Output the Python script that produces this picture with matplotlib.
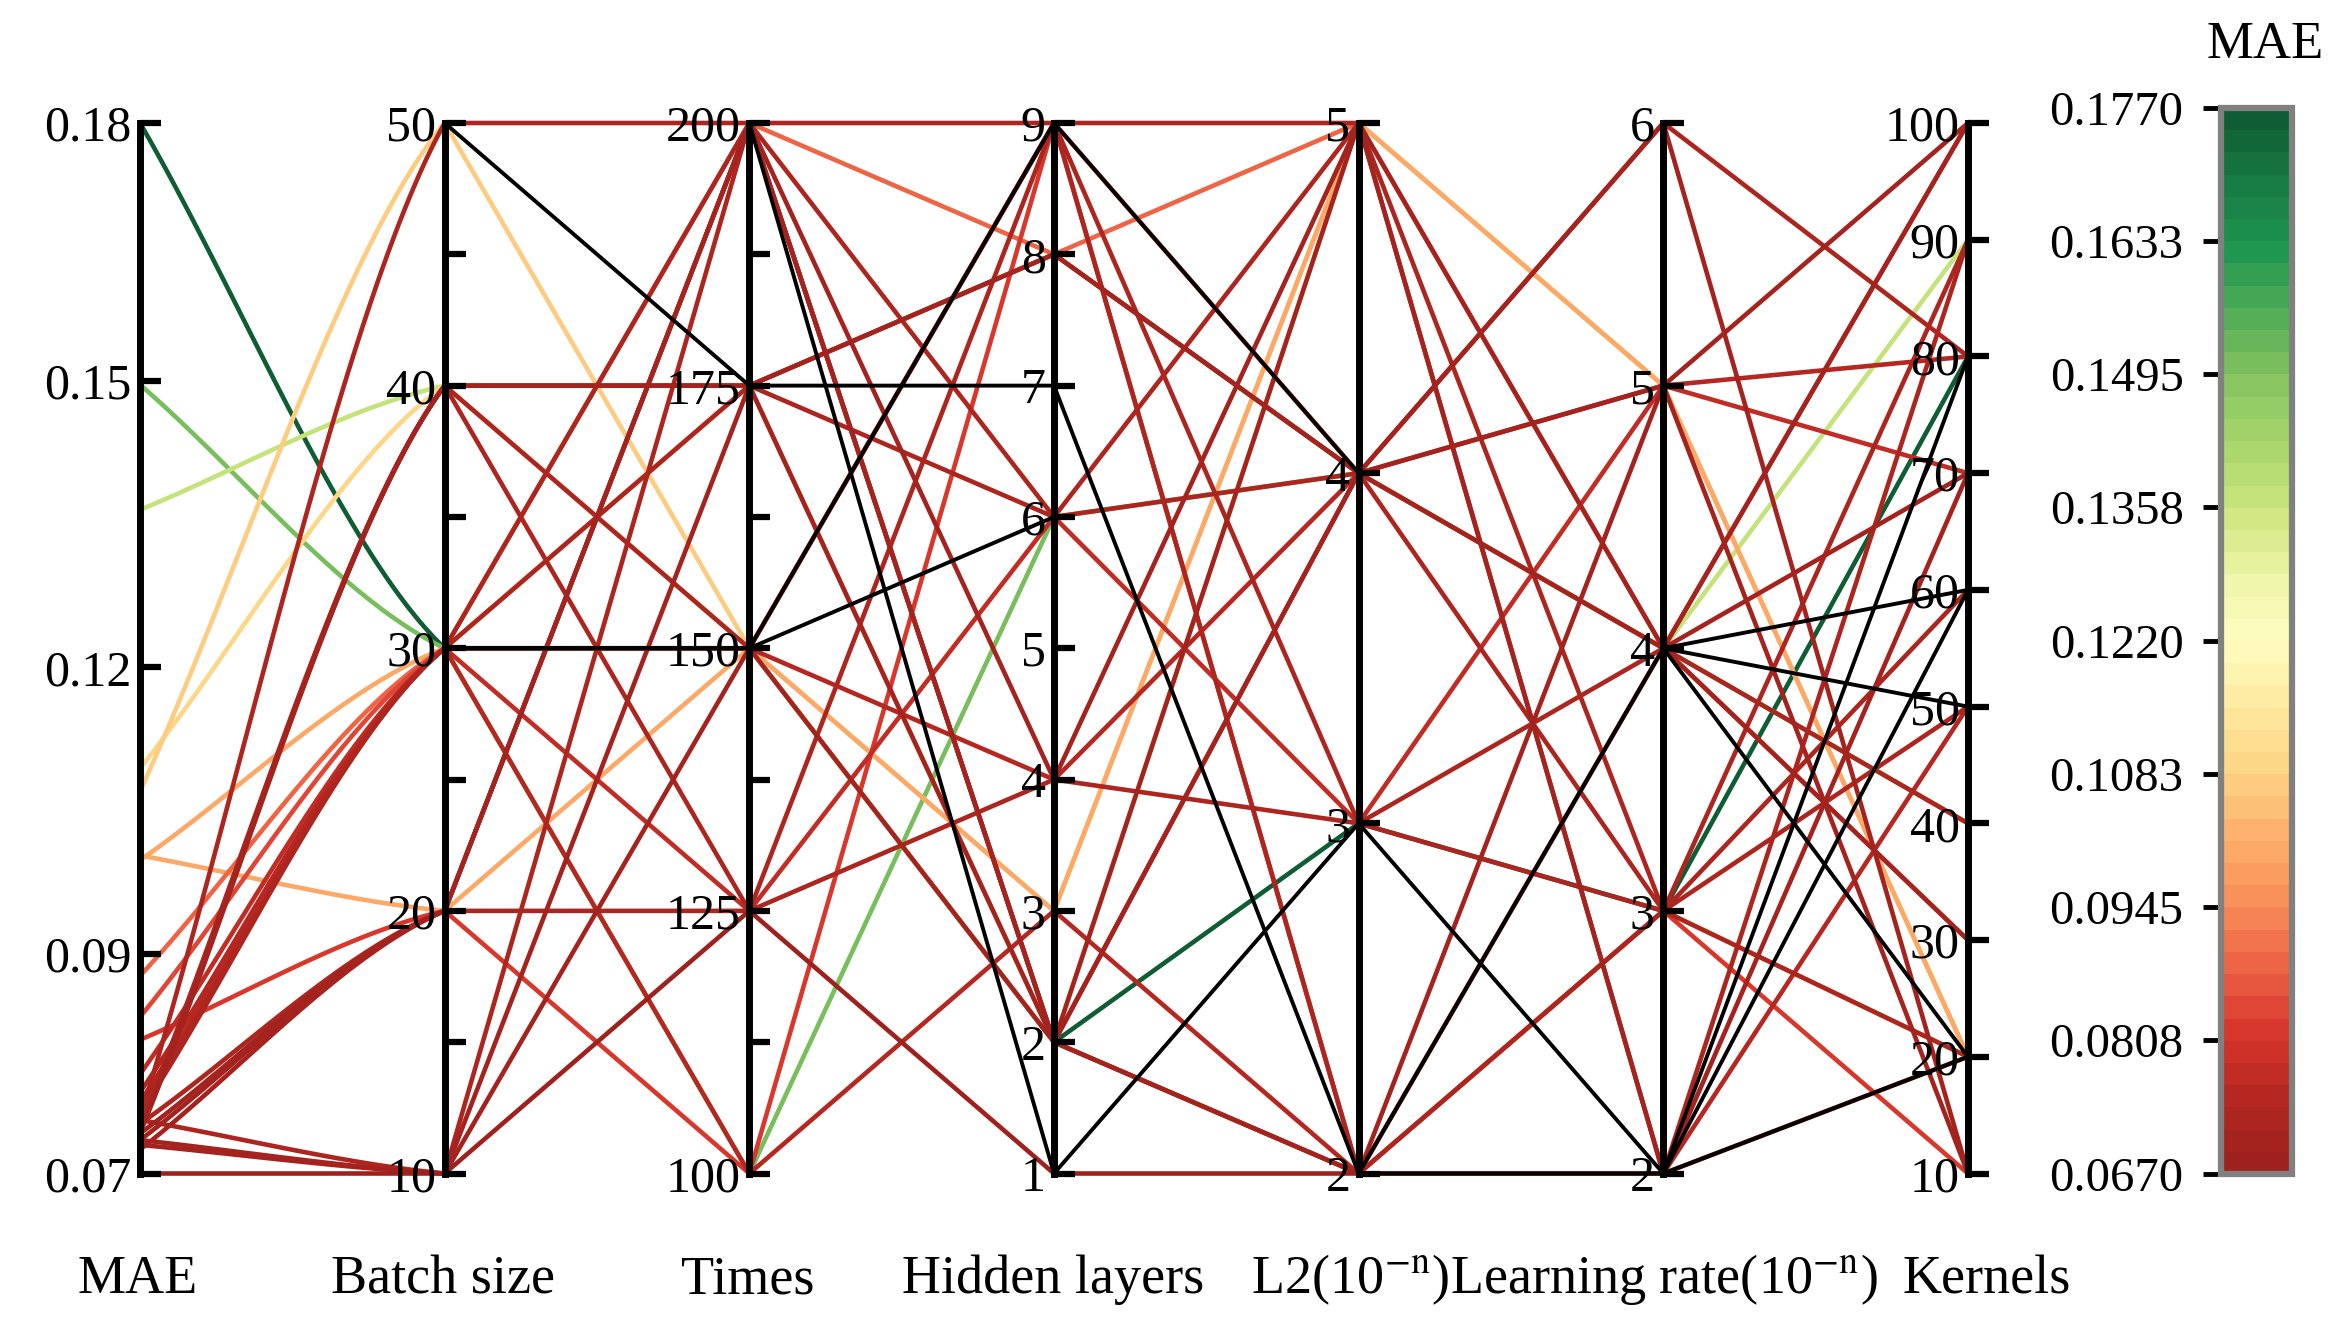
import numpy as np
import matplotlib
matplotlib.use("Agg")
import matplotlib.pyplot as plt
from matplotlib.colors import LinearSegmentedColormap, Normalize
from matplotlib.cm import ScalarMappable
from matplotlib.ticker import FixedLocator, FixedFormatter

plt.rcParams['font.family'] = ['Liberation Serif', 'DejaVu Serif']
plt.rcParams['mathtext.fontset'] = 'stix'

nan = np.nan

# ---------------- data (one entry per trial; nan = not recorded) ----------------
mae = [0.177, 0.1496, 0.1365, 0.1094, 0.107, 0.1003, 0.0998, 0.0877, 0.0834, 0.081,
       0.0728, 0.0712, 0.0718, 0.0722, 0.0774, 0.0755, 0.0745, 0.0705, 0.0712, 0.0737,
       0.0722, 0.0726, 0.0705, 0.067, 0.0700, 0.0695, 0.0733, 0.0715,
       nan, nan, nan, nan, nan, nan, nan, nan, nan, nan]
batch = [30, 30, 40, 40, 50, 20, 30, 30, 30, 20,
         50, 40, 40, 40, 30, 30, 30, 20, 20, 30,
         20, 10, 10, 10, 10, 20, 30, 40,
         50, 30, 30, nan, nan, nan, nan, nan, nan, nan]
times = [150, 100, 175, 150, 150, 150, 175, 200, 150, 100,
         200, 175, 150, 125, 125, 100, 150, 200, 200, 175,
         125, 200, 175, 125, 150, 200, 200, 175,
         175, 150, 150, 200, nan, nan, nan, nan, nan, nan]
hidden = [2, 6, 8, 2, 3, 3, 2, 8, 9, 9,
          9, 8, 9, 9, 6, 3, 4, 4, 2, 6,
          4, 2, 2, 1, 2, 2, 6, 8,
          7, 9, 6, 1, 1, nan, nan, nan, nan, nan]
l2 = [3, 4, 4, 5, 5, 5, 2, 5, 4, 2,
      5, 4, 3, 2, 3, 2, 4, 5, 5, 5,
      3, 4, 2, 2, 4, 2, 4, 4,
      2, 4, nan, nan, 3, 2, 2, nan, nan, nan]
lr = [3, 4, 4, 5, 5, 5, 3, 4, 4, 3,
      2, 4, 3, 3, 5, 2, 5, 4, 2, 3,
      4, 3, 4, 2, 6, 5, 6, 5,
      nan, nan, nan, nan, 2, 4, 2, 4, 4, 2]
kernels = [80, 40, 90, 20, 20, 20, 20, 30, 100, 10,
           90, 100, 50, 20, 70, 50, 80, 30, 70, 90,
           40, 60, 70, 20, 10, 100, 80, 10,
           nan, nan, nan, nan, 80, 60, 20, 50, 20, 60]

dim_names = ["MAE", "Batch size", "Times", "Hidden layers",
             r"L2(10$^{-\mathrm{n}}$)", r"Learning rate(10$^{-\mathrm{n}}$)", "Kernels"]
dim_lo = [0.067, 10, 100, 1, 2, 2, 10]
dim_hi = [0.177, 50, 200, 9, 5, 6, 100]
major_ticks = [[0.067, 0.09, 0.12, 0.15, 0.177],
               [10, 20, 30, 40, 50],
               [100, 125, 150, 175, 200],
               [1, 2, 3, 4, 5, 6, 7, 8, 9],
               [2, 3, 4, 5],
               [2, 3, 4, 5, 6],
               [10, 20, 30, 40, 50, 60, 70, 80, 90, 100]]
major_labels = [["0.07", "0.09", "0.12", "0.15", "0.18"],
                ["10", "20", "30", "40", "50"],
                ["100", "125", "150", "175", "200"],
                [str(v) for v in range(1, 10)],
                ["2", "3", "4", "5"],
                ["2", "3", "4", "5", "6"],
                [str(v) for v in range(10, 101, 10)]]
minor_ticks = [[], [15, 25, 35, 45], [112.5, 137.5, 162.5, 187.5], [], [], [], []]

cb_ticks = [0.0670, 0.0808, 0.0945, 0.1083, 0.1220, 0.1358, 0.1495, 0.1633, 0.1770]
cb_labels = ["0.0670", "0.0808", "0.0945", "0.1083", "0.1220", "0.1358", "0.1495", "0.1633", "0.1770"]

# ---------------- colormap ----------------
cm_nodes = [(0.000, '#9e211e'), (0.060, '#b3261f'), (0.125, '#d7352b'), (0.190, '#ee6446'),
            (0.250, '#f98e58'), (0.310, '#fdae6b'), (0.375, '#fdd485'), (0.440, '#feeaa0'),
            (0.500, '#fffec0'), (0.560, '#eef5a8'), (0.625, '#cde67f'), (0.690, '#a6d56c'),
            (0.750, '#86c45f'), (0.810, '#54ae57'), (0.875, '#1e9650'), (0.940, '#177a42'),
            (1.000, '#0f5d34')]
cmap = LinearSegmentedColormap.from_list('mae', cm_nodes, N=48)
cnorm = Normalize(vmin=cb_ticks[0], vmax=cb_ticks[-1])

# ---------------- figure ----------------
W, H = 2346, 1342
fig = plt.figure(figsize=(W / 100, H / 100), dpi=100)
x_left, x_right, y_top, y_bot = 140, 1968, 123, 1173.5
L, R = x_left / W, x_right / W
B, T = 1 - y_bot / H, 1 - y_top / H
ax = fig.add_axes([L, B, R - L, T - B])
ax.set_xlim(0, 6)
ax.set_ylim(0, 1)
ax.axis('off')

cols = [mae, batch, times, hidden, l2, lr, kernels]
data = np.array(cols, dtype=float).T
lo = np.array(dim_lo)
hi = np.array(dim_hi)
ndata = (data - lo) / (hi - lo)

tt = np.linspace(0, 1, 60)


def segment(x0, y0, y1, curved):
    if not curved:
        return np.array([x0, x0 + 1.0]), np.array([y0, y1])
    c = y1 - y0
    m0, m1 = c, 0.55 * c
    h00 = 2 * tt**3 - 3 * tt**2 + 1
    h10 = tt**3 - 2 * tt**2 + tt
    h01 = -2 * tt**3 + 3 * tt**2
    h11 = tt**3 - tt**2
    return x0 + tt, h00 * y0 + h10 * m0 + h01 * y1 + h11 * m1


mae_arr = np.array(mae, dtype=float)
order = sorted(range(len(mae)), key=lambda k: (np.isnan(mae_arr[k]), -np.nan_to_num(mae_arr[k])))
for k in order:
    row = ndata[k]
    if np.isnan(mae_arr[k]):
        col, lw = 'black', 2.8
    else:
        col, lw = cmap(cnorm(mae_arr[k])), 3.3
    X, Y = [], []
    for j in range(6):
        if np.isnan(row[j]) or np.isnan(row[j + 1]):
            if X:
                ax.plot(np.concatenate(X), np.concatenate(Y), color=col, lw=lw,
                        clip_on=False, solid_joinstyle='round')
            X, Y = [], []
            continue
        xs, ys = segment(j, row[j], row[j + 1], j == 0)
        X.append(xs)
        Y.append(ys)
    if X:
        ax.plot(np.concatenate(X), np.concatenate(Y), color=col, lw=lw,
                clip_on=False, solid_joinstyle='round')

# ---------------- parallel axes ----------------
for i in range(7):
    xi = L + (R - L) * i / 6
    a = fig.add_axes([xi, B, 1e-4, T - B], zorder=5)
    a.set_ylim(dim_lo[i], dim_hi[i])
    a.patch.set_visible(False)
    for s in ['right', 'top', 'bottom']:
        a.spines[s].set_visible(False)
    a.spines['left'].set_linewidth(5)
    a.set_xticks([])
    a.yaxis.set_major_locator(FixedLocator(major_ticks[i]))
    a.yaxis.set_major_formatter(FixedFormatter(major_labels[i]))
    a.yaxis.set_minor_locator(FixedLocator(minor_ticks[i]))
    a.tick_params(axis='y', which='both', direction='in', length=15, width=4.5,
                  labelsize=36, pad=6)

label_x = [138, 443, 748, 1053, 1350, 1664, 1987]
for i, name in enumerate(dim_names):
    fig.text(label_x[i] / W, 1 - 1293 / H, name, ha='center', va='baseline', fontsize=39)

# ---------------- colorbar ----------------
cax = fig.add_axes([2221 / W, 1 - 1174 / H, (2292 - 2221) / W, (1174 - 108) / H])
cb = fig.colorbar(ScalarMappable(norm=cnorm, cmap=cmap), cax=cax)
cb.outline.set_edgecolor('#808080')
cb.outline.set_linewidth(4.5)
cb.set_ticks(cb_ticks)
cb.set_ticklabels(cb_labels)
cax.yaxis.set_ticks_position('left')
cax.tick_params(axis='y', direction='out', length=13, width=3.5, labelsize=35, pad=14)
fig.text(2265 / W, 1 - 45 / H, "MAE", ha='center', va='center', fontsize=38)

fig.savefig("out.png", dpi=100)
